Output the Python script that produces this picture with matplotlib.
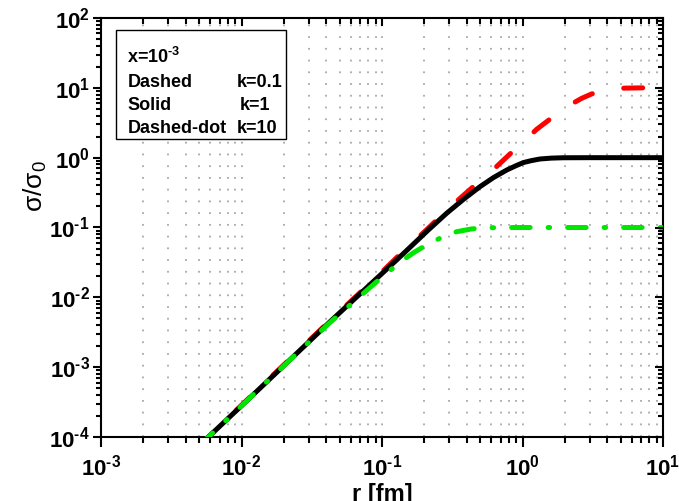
import matplotlib
matplotlib.use('Agg')
import numpy as np
import matplotlib.pyplot as plt
from matplotlib.ticker import FixedLocator, LogLocator, NullFormatter, FixedFormatter
from matplotlib.patches import Rectangle

plt.rcParams['font.family'] = ['Liberation Sans', 'DejaVu Sans']
plt.rcParams['mathtext.fontset'] = 'custom'
plt.rcParams['mathtext.rm'] = 'Liberation Sans'
plt.rcParams['mathtext.it'] = 'Liberation Sans:italic'
plt.rcParams['mathtext.bf'] = 'Liberation Sans:bold'

# ---- data ----
r_black = [0.005, 0.00581, 0.01, 0.02, 0.0415, 0.0891, 0.127, 0.2135, 0.2886, 0.38,
           0.498, 0.62, 0.772, 0.9, 1.013, 1.15, 1.33, 1.6, 1.94, 3.0, 5.0, 10.0]
s_black = [7.5e-5, 1.0e-4, 2.8e-4, 1.05e-3, 4.25e-3, 0.0177, 0.0342, 0.092, 0.160, 0.253,
           0.384, 0.517, 0.665, 0.768, 0.85, 0.905, 0.957, 0.985, 0.997, 1.0, 1.0, 1.0]

r_red = [0.005, 0.00581, 0.01, 0.02, 0.0415, 0.0891, 0.127, 0.2135, 0.305, 0.423,
         0.637, 0.884, 1.06, 1.262, 1.5, 1.8, 2.2, 2.64, 3.1, 3.66, 4.3, 5.36, 7.0, 10.0]
s_red = [7.5e-5, 1.0e-4, 2.85e-4, 1.08e-3, 4.4e-3, 0.0185, 0.037, 0.098, 0.195, 0.35,
         0.71, 1.318, 1.83, 2.55, 3.32, 4.43, 5.76, 7.08, 8.16, 9.08, 9.6, 9.9, 9.99, 10.0]

r_green = [0.005, 0.00581, 0.01, 0.02, 0.0415, 0.0917, 0.115, 0.134, 0.152, 0.172,
           0.2, 0.232, 0.28, 0.34, 0.435, 0.55, 0.7, 1.0, 3.0, 10.0]
s_green = [7.5e-5, 1.0e-4, 2.8e-4, 1.05e-3, 4.15e-3, 0.01675, 0.0245, 0.0315, 0.038, 0.045,
           0.0538, 0.0630, 0.0760, 0.087, 0.0955, 0.0990, 0.0998, 0.1, 0.1, 0.1]

x_major = [1e-3, 1e-2, 1e-1, 1e0, 1e1]
x_labels = [r'$\mathbf{10^{‐3}}$', r'$\mathbf{10^{‐2}}$', r'$\mathbf{10^{‐1}}$',
            r'$\mathbf{10^{0}}$', r'$\mathbf{10^{1}}$']
y_major = [1e-4, 1e-3, 1e-2, 1e-1, 1e0, 1e1, 1e2]
y_labels = [r'$\mathbf{10^{‐4}}$', r'$\mathbf{10^{‐3}}$', r'$\mathbf{10^{‐2}}$',
            r'$\mathbf{10^{‐1}}$', r'$\mathbf{10^{0}}$', r'$\mathbf{10^{1}}$',
            r'$\mathbf{10^{2}}$']

box_lines = [r'x=10$^{\mathbf{‐3}}$', 'Dashed', 'Solid', 'Dashed-dot']
box_k = ['', 'k=0.1', 'k=1', 'k=10']

W, H = 679, 501
fig = plt.figure(figsize=(W / 100, H / 100), dpi=100)
L, R, T, B = 101, 663, 18, 437
ax = fig.add_axes([L / W, 1 - B / H, (R - L) / W, (B - T) / H])
ax.set_xscale('log')
ax.set_yscale('log')
ax.set_xlim(1e-3, 10)
ax.set_ylim(1e-4, 100)

lw = 3.6
ax.plot(r_red, s_red, color='#ff0000', lw=lw, dashes=(3.8, 6.4),
        dash_capstyle='round', zorder=3)
ax.plot(r_black, s_black, color='black', lw=lw, solid_capstyle='round', zorder=4)
ax.plot(r_green, s_green, color='#00e600', lw=lw, dashes=(3.7, 3.6, 0.3, 3.6),
        dash_capstyle='round', zorder=5)

minor_loc = lambda: LogLocator(base=10, subs=np.arange(2, 10), numticks=100)

ax.xaxis.set_major_locator(FixedLocator(x_major))
ax.xaxis.set_major_formatter(FixedFormatter(x_labels))
ax.xaxis.set_minor_locator(minor_loc())
ax.xaxis.set_minor_formatter(NullFormatter())
ax.yaxis.set_major_locator(FixedLocator(y_major))
ax.yaxis.set_major_formatter(FixedFormatter(y_labels))
ax.yaxis.set_minor_locator(minor_loc())
ax.yaxis.set_minor_formatter(NullFormatter())

ax.grid(True, which='both', axis='x', color='#a8a8a8', linestyle=(0, (1, 5.5)), lw=1.3)
ax.set_axisbelow(True)

for s in ax.spines.values():
    s.set_linewidth(1.5)

ax.tick_params(which='both', direction='out', width=1.5, labelsize=16)
ax.tick_params(axis='x', which='major', length=7.5, pad=5)
ax.tick_params(axis='x', which='minor', length=4.5)
ax.tick_params(axis='y', which='major', length=6, pad=2)
ax.tick_params(axis='y', which='minor', length=3.5)

# inward ticks on the right and top
axr = ax.twinx()
axr.set_yscale('log')
axr.set_ylim(1e-4, 100)
axr.yaxis.set_major_locator(FixedLocator(y_major))
axr.yaxis.set_minor_locator(minor_loc())
axr.tick_params(axis='y', which='both', direction='in', width=1.5, labelright=False)
axr.tick_params(axis='y', which='major', length=6)
axr.tick_params(axis='y', which='minor', length=3.5)
for s in axr.spines.values():
    s.set_visible(False)

axt = ax.twiny()
axt.set_xscale('log')
axt.set_xlim(1e-3, 10)
axt.xaxis.set_major_locator(FixedLocator(x_major))
axt.xaxis.set_minor_locator(minor_loc())
axt.tick_params(axis='x', which='both', direction='in', width=1.5, labeltop=False)
axt.tick_params(axis='x', which='major', length=6)
axt.tick_params(axis='x', which='minor', length=4)
for s in axt.spines.values():
    s.set_visible(False)

# annotation box
def ax_x(px):
    return (px - L) / (R - L)

def ax_y(py):
    return (B - py) / (B - T)

bx0, bx1, by0, by1 = 115.7, 285.7, 30, 139.3
ax.add_patch(Rectangle((ax_x(bx0), ax_y(by1)), ax_x(bx1) - ax_x(bx0), ax_y(by0) - ax_y(by1),
                       transform=ax.transAxes, facecolor='white', edgecolor='black',
                       lw=1.0, zorder=6))
baselines = [63.3, 86.7, 110.0, 133.3]
k_x = [0, 236.7, 240.0, 236.7]
for i, txt in enumerate(box_lines):
    ax.text(ax_x(127.3), ax_y(baselines[i]), txt, transform=ax.transAxes,
            fontsize=13, fontweight='bold', ha='left', va='baseline', zorder=7)
    if box_k[i]:
        ax.text(ax_x(k_x[i]), ax_y(baselines[i]), box_k[i], transform=ax.transAxes,
                fontsize=13, fontweight='bold', ha='left', va='baseline', zorder=7)

# axis titles
fig.text(382 / W, 1 - 483 / H, 'r [fm]', ha='center', va='top', fontsize=17,
         fontweight='bold')
fig.text(35 / W, 1 - 186 / H, 'σ/σ$_0$', rotation=90, ha='center', va='center',
         fontsize=19)

fig.savefig('out.png', dpi=100)
